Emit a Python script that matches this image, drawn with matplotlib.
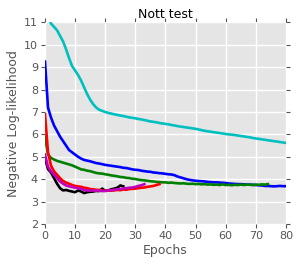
import numpy as np
import matplotlib
matplotlib.use("Agg")
import matplotlib.pyplot as plt

plt.style.use('ggplot')
plt.rcParams["font.family"] = "DejaVu Sans"

# per-epoch negative log-likelihood
ep_cyan = np.arange(1, 81)
nll_cyan = [11.3, 10.95, 10.8, 10.65, 10.4, 10.15, 9.8, 9.4, 9.05, 8.85,
            8.65, 8.4, 8.1, 7.8, 7.55, 7.35, 7.2, 7.1, 7.05, 7.0,
            6.96, 6.93, 6.9, 6.87, 6.84, 6.82, 6.79, 6.76, 6.74, 6.72,
            6.69, 6.67, 6.64, 6.61, 6.58, 6.56, 6.54, 6.51, 6.49, 6.47,
            6.45, 6.42, 6.4, 6.37, 6.35, 6.33, 6.31, 6.29, 6.27, 6.25,
            6.22, 6.19, 6.16, 6.14, 6.12, 6.1, 6.08, 6.06, 6.04, 6.02,
            6.0, 5.99, 5.97, 5.95, 5.93, 5.91, 5.89, 5.87, 5.84, 5.82,
            5.8, 5.78, 5.76, 5.74, 5.72, 5.7, 5.68, 5.66, 5.64, 5.62]

ep_blue = np.arange(0, 81)
nll_blue = [9.25, 7.2, 6.75, 6.4, 6.15, 5.9, 5.7, 5.5, 5.3, 5.2,
            5.1, 5.0, 4.92, 4.86, 4.83, 4.8, 4.76, 4.72, 4.7, 4.67,
            4.64, 4.62, 4.6, 4.58, 4.56, 4.54, 4.51, 4.5, 4.47, 4.44,
            4.42, 4.41, 4.38, 4.36, 4.34, 4.33, 4.3, 4.29, 4.27, 4.26,
            4.24, 4.22, 4.21, 4.18, 4.12, 4.08, 4.04, 4.0, 3.97, 3.95,
            3.93, 3.92, 3.91, 3.9, 3.88, 3.87, 3.86, 3.86, 3.85, 3.84,
            3.83, 3.81, 3.8, 3.79, 3.78, 3.78, 3.77, 3.76, 3.76, 3.75,
            3.74, 3.73, 3.72, 3.7, 3.7, 3.69, 3.68, 3.69, 3.7, 3.69, 3.69]

ep_green = np.arange(0, 75)
nll_green = [5.9, 5.1, 4.95, 4.88, 4.82, 4.78, 4.74, 4.7, 4.66, 4.62,
             4.56, 4.5, 4.44, 4.42, 4.38, 4.36, 4.32, 4.28, 4.26, 4.25,
             4.22, 4.2, 4.17, 4.15, 4.13, 4.1, 4.09, 4.06, 4.05, 4.02,
             4.01, 3.98, 3.96, 3.95, 3.93, 3.91, 3.9, 3.88, 3.87, 3.86,
             3.86, 3.84, 3.85, 3.83, 3.82, 3.81, 3.82, 3.8, 3.79, 3.8,
             3.78, 3.79, 3.77, 3.78, 3.76, 3.77, 3.75, 3.76, 3.74, 3.77,
             3.74, 3.75, 3.73, 3.75, 3.74, 3.76, 3.74, 3.76, 3.75, 3.74,
             3.76, 3.75, 3.77, 3.76, 3.78]

ep_black = np.arange(0, 27)
nll_black = [4.95, 4.45, 4.3, 4.05, 3.8, 3.6, 3.5, 3.52, 3.48, 3.45,
             3.42, 3.5, 3.45, 3.38, 3.42, 3.44, 3.45, 3.48, 3.47, 3.58,
             3.48, 3.5, 3.55, 3.58, 3.62, 3.72, 3.68]

ep_red = np.arange(0, 39)
nll_red = [6.9, 5.2, 4.6, 4.35, 4.2, 4.05, 3.92, 3.85, 3.8, 3.74,
           3.7, 3.68, 3.66, 3.62, 3.6, 3.56, 3.55, 3.53, 3.52, 3.5,
           3.48, 3.5, 3.49, 3.5, 3.52, 3.51, 3.54, 3.53, 3.56, 3.57,
           3.58, 3.6, 3.62, 3.63, 3.66, 3.68, 3.7, 3.74, 3.78]

ep_mag = np.arange(0, 34)
nll_mag = [5.1, 4.55, 4.35, 4.2, 4.05, 3.9, 3.8, 3.72, 3.68, 3.65,
           3.62, 3.6, 3.57, 3.52, 3.5, 3.49, 3.5, 3.48, 3.49, 3.47,
           3.48, 3.5, 3.51, 3.53, 3.55, 3.56, 3.58, 3.6, 3.62, 3.63,
           3.66, 3.7, 3.73, 3.78]

fig = plt.figure(figsize=(2.99, 2.67), dpi=100)
ax = fig.add_axes([0.1505, 0.161, 0.806, 0.755])
ax.set_facecolor('#e5e5e5')
for s in ax.spines.values():
    s.set_visible(False)

lw = 1.9
ax.plot(ep_cyan, nll_cyan, color='#00bfbf', lw=lw)
ax.plot(ep_blue, nll_blue, color='#0000ff', lw=lw)
ax.plot(ep_green, nll_green, color='#008000', lw=lw)
ax.plot(ep_black, nll_black, color='black', lw=lw)
ax.plot(ep_red, nll_red, color='#ff0000', lw=lw)
ax.plot(ep_mag, nll_mag, color='#bf00bf', lw=lw)

ax.set_xlim(0, 80)
ax.set_ylim(2, 11)
ax.set_xticks(range(0, 81, 10))
ax.set_yticks(range(2, 12))
ax.grid(True, color='white', lw=1)
ax.set_axisbelow(True)
ax.tick_params(axis='both', which='both', direction='out', length=3,
               color='#555555', labelcolor='#555555', labelsize=8,
               top=True, right=True, labeltop=False, labelright=False, pad=2)

ax.set_xlabel('Epochs', fontsize=9, color='#555555', labelpad=2)
ax.set_ylabel('Negative Log-likelihood', fontsize=9, color='#555555', labelpad=3)
ax.set_title('Nott test', fontsize=9, color='black', pad=3)

plt.savefig('out.png', dpi=100)
